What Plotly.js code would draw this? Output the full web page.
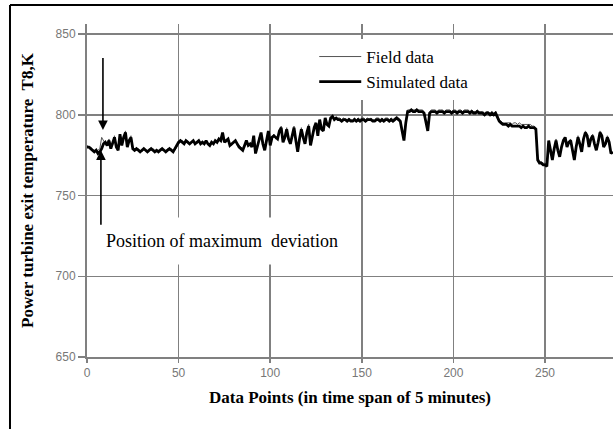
<!DOCTYPE html>
<html>
<head>
<meta charset="utf-8">
<script src="https://cdn.plot.ly/plotly-3.0.1.min.js"></script>
<style>html,body{margin:0;padding:0;background:#fff;}#chart{width:613px;height:429px;}</style>
</head>
<body>
<div id="chart"></div>
<script>
// Power turbine exit temperature T8 (K) per data point (5-minute spans)
const simulatedData = [
  780,780,779,778,777,778,776,777,779,782,
  783,781,784,779,782,786,780,778,788,781,
  786,789,780,784,786,779,778,779,778,777,
  778,779,778,777,778,779,778,777,778,777,
  778,779,778,777,778,779,778,777,779,781,
  783,784,783,782,784,783,782,783,784,782,
  783,784,782,783,782,784,782,781,783,782,
  784,783,785,784,789,783,784,785,781,782,
  783,784,782,780,779,778,781,784,781,782,
  780,787,776,781,785,789,782,778,784,790,
  781,786,787,786,785,790,792,783,786,791,
  785,782,788,792,784,777,785,791,786,782,
  789,793,781,787,792,795,787,797,791,790,
  798,794,793,798,799,797,798,797,797,796,
  797,797,796,797,796,796,797,796,797,796,
  797,797,796,797,797,797,796,796,797,797,
  796,797,796,797,797,796,797,796,797,798,
  797,796,790,784,795,802,802,803,802,802,
  803,802,802,802,801,796,790,801,802,802,
  802,801,802,802,802,801,802,802,802,801,
  802,802,801,802,802,801,802,802,802,801,
  802,801,801,802,801,801,801,800,801,801,
  800,801,800,801,798,796,795,794,794,794,
  793,794,793,793,793,793,793,792,793,792,
  792,793,792,792,792,791,772,770,770,769,
  769,768,784,778,772,779,784,778,774,780,
  784,786,780,783,784,778,772,780,786,782,
  777,785,789,787,780,785,787,782,778,783,
  789,787,780,782,786,783,776,777
];
const fieldData = [
  781,780,780,778,778,777,778,779,786,784,
  782,782,785,780,781,787,781,779,787,782,
  785,790,781,783,787,780,779,778,779,778,
  777,779,778,778,779,778,779,778,777,778,
  779,778,778,778,779,778,779,778,778,780,
  782,783,784,783,783,784,782,783,784,783,
  782,784,783,782,783,783,782,782,782,783,
  783,784,784,786,788,784,783,785,782,781,
  783,784,781,781,780,779,780,783,782,781,
  781,786,777,780,786,788,783,779,785,789,
  782,785,788,785,786,789,793,784,785,792,
  784,783,787,793,783,778,784,792,785,783,
  788,794,782,786,793,794,788,796,792,791,
  797,795,794,797,800,798,797,798,798,797,
  798,797,797,798,797,797,798,797,798,797,
  798,798,797,798,797,798,797,797,798,798,
  797,798,797,798,798,797,798,797,798,799,
  798,797,791,786,796,803,803,803,803,803,
  803,803,803,803,802,795,791,802,803,803,
  803,802,803,803,803,802,803,803,803,802,
  803,803,802,803,803,802,803,803,803,802,
  803,802,802,803,802,802,802,801,802,802,
  801,802,801,802,800,797,796,795,795,795,
  795,795,794,795,795,794,795,794,794,794,
  794,794,794,793,793,792,774,771,771,770,
  770,769,783,779,773,778,785,777,775,779,
  785,785,781,782,785,777,773,779,787,781,
  778,784,790,786,781,784,788,781,779,782,
  790,786,781,781,787,782,777,776
];
const dataPoints = simulatedData.map((_, i) => i);
const xTicks = [0, 50, 100, 150, 200, 250];
const yTicks = [650, 700, 750, 800, 850];
const seriesNames = ["Field data", "Simulated data"];
const xTitle = "Data Points (in time span of 5 minutes)";
const yTitle = "Power turbine exit temperature  T8,K";
const noteText = "Position of maximum  deviation";
// arrow marking the maximum deviation (data coords)
const arrowDown = {x: 8.7, from: 836, to: 790.5};
const arrowUp = {x: 7.6, from: 731, to: 778};
const noteAt = {x: 2.6, y: 722};

const serif = "Liberation Serif, Times New Roman, serif";
const grid = "#808080";

const traces = [
  {x: dataPoints, y: fieldData, type: "scatter", mode: "lines", name: seriesNames[0],
   legendgroup: "a", line: {color: "#555555", width: 1}},
  {x: dataPoints, y: simulatedData, type: "scatter", mode: "lines", name: seriesNames[1],
   legendgroup: "b", line: {color: "#000000", width: 2.8}}
];

const layout = {
  width: 613, height: 429,
  margin: {l: 87, r: 0, t: 24, b: 72},
  paper_bgcolor: "#ffffff", plot_bgcolor: "#ffffff",
  showlegend: true,
  legend: {x: 0.432, y: 0.955, xanchor: "left", yanchor: "top", bgcolor: "#ffffff",
    font: {family: serif, size: 17, color: "#000"}, itemwidth: 42, tracegroupgap: 0,
    borderwidth: 0},
  xaxis: {range: [0, 287.1], tickvals: xTicks, showgrid: true, gridcolor: grid, gridwidth: 1.5,
    zeroline: false, showline: true, linecolor: grid, linewidth: 2,
    ticks: "outside", ticklen: 4, tickcolor: grid, tickwidth: 1.5,
    tickfont: {family: "Liberation Sans, Arial, sans-serif", size: 12, color: "#777777"},
    title: {text: xTitle, font: {family: serif, size: 17, color: "#000", weight: "bold"}, standoff: 12}},
  yaxis: {range: [650, 856.2], tickvals: yTicks, showgrid: true, gridcolor: grid, gridwidth: 1.5,
    zeroline: false, showline: true, linecolor: grid, linewidth: 2,
    ticks: "outside", ticklen: 7, tickcolor: grid, tickwidth: 1.5,
    tickfont: {family: "Liberation Sans, Arial, sans-serif", size: 12, color: "#777777"},
    title: {text: yTitle, font: {family: serif, size: 17, color: "#000", weight: "bold"}, standoff: 18}},
  annotations: [
    {x: noteAt.x, y: noteAt.y, xref: "x", yref: "y", text: noteText, showarrow: false,
     xanchor: "left", yanchor: "middle", bgcolor: "#ffffff", borderpad: 13,
     font: {family: serif, size: 18, color: "#000"}},
    {x: arrowDown.x, y: arrowDown.to, ax: arrowDown.x, ay: arrowDown.from, xref: "x", yref: "y",
     axref: "x", ayref: "y", text: "", showarrow: true, arrowhead: 2, arrowsize: 1.2,
     arrowwidth: 1.6, arrowcolor: "#000"},
    {x: arrowUp.x, y: arrowUp.to, ax: arrowUp.x, ay: arrowUp.from, xref: "x", yref: "y",
     axref: "x", ayref: "y", text: "", showarrow: true, arrowhead: 2, arrowsize: 1.2,
     arrowwidth: 1.6, arrowcolor: "#000"}
  ],
  shapes: [
    {type: "line", xref: "paper", yref: "paper", x0: -0.1464, x1: -0.1464, y0: -0.22, y1: 1.057,
     line: {color: "#000", width: 2}},
    {type: "line", xref: "paper", yref: "paper", x0: -0.1464, x1: 1.01, y0: 1.057, y1: 1.057,
     line: {color: "#000", width: 2}}
  ]
};

Plotly.newPlot("chart", traces, layout, {staticPlot: true, displayModeBar: false});
</script>
</body>
</html>
